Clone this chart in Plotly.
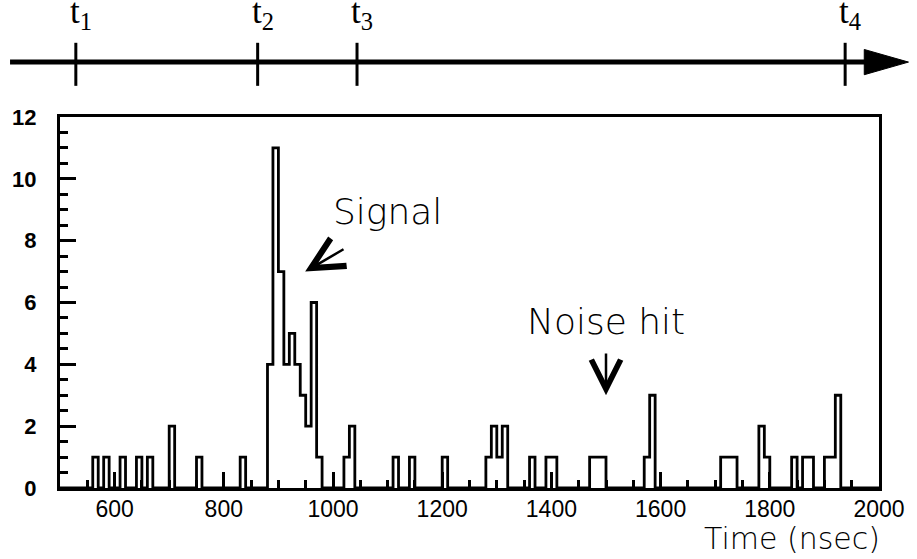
import numpy as np
import plotly.graph_objects as go

# Histogram binning (ns)
x_min, x_max, bin_width = 500, 2000, 10
y_max = 12

# Lower edges of the non-empty bins and their counts
bin_lo = [560, 580, 610, 640, 660, 700, 750, 830,
          880, 890, 900, 910, 920, 930, 940, 950, 960, 970,
          1020, 1030, 1110, 1140, 1200, 1280, 1290, 1300, 1310,
          1360, 1390, 1400, 1470, 1480, 1490, 1570, 1580,
          1710, 1720, 1730, 1780, 1790, 1840, 1860, 1870,
          1900, 1910, 1920]
counts = [1, 1, 1, 1, 1, 2, 1, 1,
          4, 11, 7, 4, 5, 4, 3, 2, 6, 1,
          1, 2, 1, 1, 1, 1, 2, 1, 2,
          1, 1, 1, 1, 1, 1, 1, 3,
          1, 1, 1, 2, 1, 1, 1, 1,
          1, 1, 3]

# Timing marks on the time line (ns)
t_names = ["t<sub>1</sub>", "t<sub>2</sub>", "t<sub>3</sub>", "t<sub>4</sub>"]
t_times = [529, 862, 1044, 1938]

# Annotated features
signal_tip = (949, 7.0)
signal_tail = (1022, 7.75)
signal_text = (1100, 8.95)
noise_tip = (1500, 3.0)
noise_tail = (1500, 4.4)
noise_text = (1500, 5.4)

# Build the full step outline from the bin list
edges = np.arange(x_min, x_max + bin_width, bin_width)
full = np.zeros(len(edges) - 1)
for lo, c in zip(bin_lo, counts):
    full[(lo - x_min) // bin_width] = c
step_y = np.append(full, full[-1])

black = "black"
fig = go.Figure()
fig.add_trace(go.Scatter(
    x=edges, y=step_y, mode="lines", line_shape="hv",
    line=dict(color=black, width=2.8), hoverinfo="skip", showlegend=False,
))

fig.update_layout(
    width=917, height=559,
    margin=dict(l=58, r=31, t=117, b=71),
    paper_bgcolor="white", plot_bgcolor="white",
    showlegend=False,
    xaxis=dict(
        range=[x_min, x_max], tick0=0, dtick=200,
        ticks="inside", ticklen=16, tickwidth=3, tickcolor=black,
        minor=dict(dtick=50, ticks="inside", ticklen=8, tickwidth=3, tickcolor=black),
        showline=True, linewidth=3, linecolor=black, mirror=True,
        showgrid=False, zeroline=False, layer="above traces",
        ticklabelstandoff=-2,
        tickfont=dict(family="Liberation Sans, Arial", size=23, color=black),
    ),
    yaxis=dict(
        range=[0, y_max], dtick=2,
        ticks="inside", ticklen=16, tickwidth=3, tickcolor=black,
        minor=dict(dtick=0.5, ticks="inside", ticklen=8, tickwidth=3, tickcolor=black),
        showline=True, linewidth=3, linecolor=black, mirror=True,
        showgrid=False, zeroline=False, layer="above traces",
        ticklabelstandoff=16,
        tickfont=dict(family="Liberation Sans, Arial", size=22, color=black, weight="bold"),
    ),
)

# Time line above the histogram
line_y = 1.148
fig.add_shape(type="line", xref="paper", yref="paper",
              x0=-0.061, x1=0.99, y0=line_y, y1=line_y,
              line=dict(color=black, width=5))
fig.add_shape(type="path", xref="paper", yref="paper",
              path=f"M 0.982 {line_y + 0.034} L 1.036 {line_y} L 0.982 {line_y - 0.034} Z",
              fillcolor=black, line=dict(color=black, width=1))
for name, t in zip(t_names, t_times):
    fig.add_shape(type="line", xref="x", yref="paper",
                  x0=t, x1=t, y0=line_y - 0.064, y1=line_y + 0.052,
                  line=dict(color=black, width=3))
    fig.add_annotation(x=t, y=1.278, xref="x", yref="paper",
                       text=name, showarrow=False, xanchor="left", xshift=-8,
                       yanchor="middle",
                       font=dict(family="Liberation Serif, Times New Roman", size=35, color=black))

big_font = dict(family="DejaVu Sans", size=36, color=black, weight=200)
axis_font = dict(family="DejaVu Sans", size=30, color=black, weight=200)

fig.add_annotation(x=signal_text[0], y=signal_text[1], text="Signal",
                   showarrow=False, font=big_font)
fig.add_annotation(x=signal_tip[0], y=signal_tip[1],
                   ax=signal_tail[0], ay=signal_tail[1], axref="x", ayref="y",
                   text="", showarrow=True, arrowhead=5, arrowsize=2.5,
                   arrowwidth=2.5, arrowcolor=black)

fig.add_annotation(x=noise_text[0], y=noise_text[1], text="Noise hit",
                   showarrow=False, font=big_font)
fig.add_annotation(x=noise_tip[0], y=noise_tip[1],
                   ax=noise_tail[0], ay=noise_tail[1], axref="x", ayref="y",
                   text="", showarrow=True, arrowhead=5, arrowsize=2.3,
                   arrowwidth=2.5, arrowcolor=black)

fig.add_annotation(x=1.0, y=-0.188, xref="paper", yref="paper",
                   text="Time (nsec)", showarrow=False, xanchor="right", xshift=3,
                   font=axis_font)

fig.write_html("out.html")
